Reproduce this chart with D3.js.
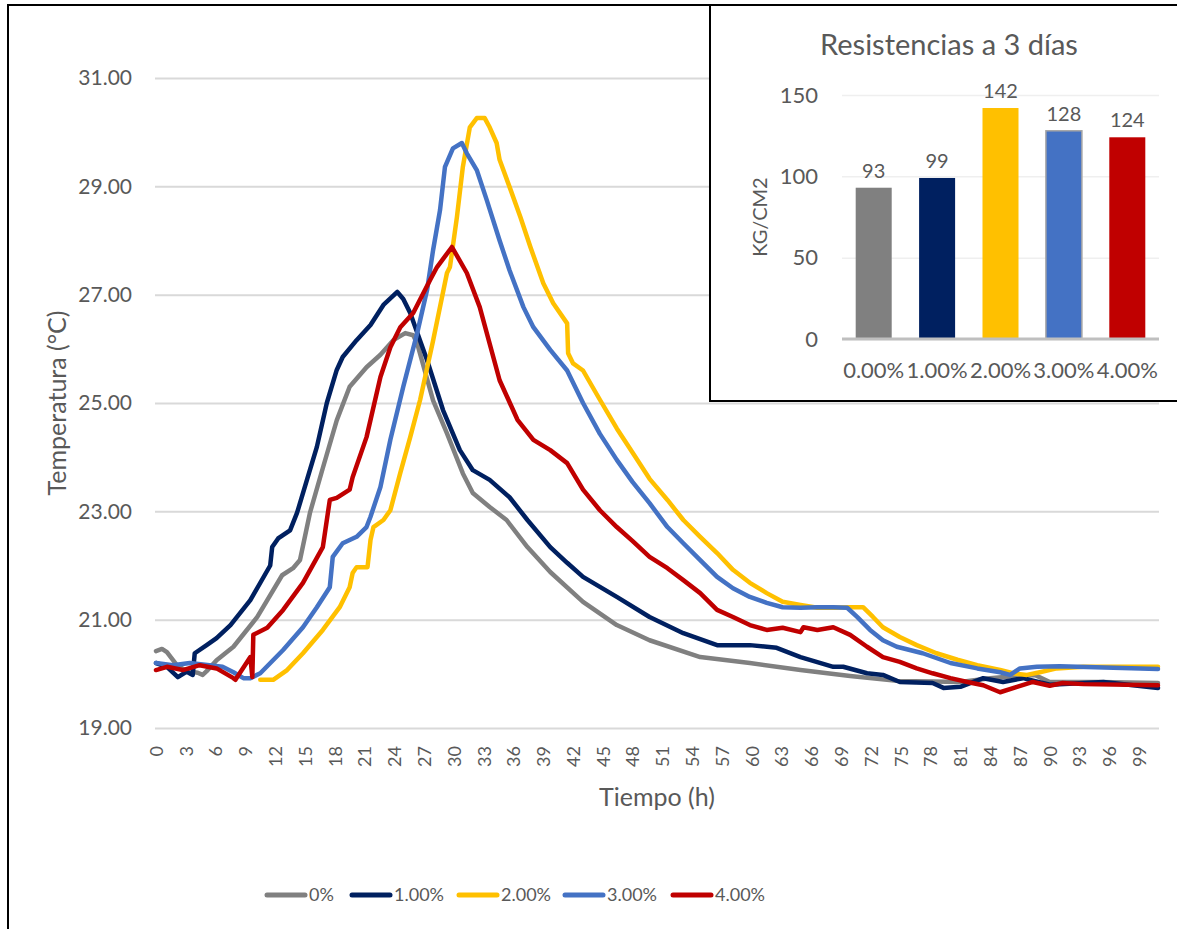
<!DOCTYPE html>
<html>
<head>
<meta charset="utf-8">
<script src="https://cdn.jsdelivr.net/npm/d3@7"></script>
<style>
  body { margin: 0; background: #fff; }
  text { font-family: Lato, "Open Sans", sans-serif; fill: #595959; }
</style>
</head>
<body>
<div id="chart"></div>
<script>
// Data
const seriesNames = ['0%', '1.00%', '2.00%', '3.00%', '4.00%']
const seriesColors = ['#808080', '#002060', '#FFC000', '#4472C4', '#C00000']

// [hora, temperatura °C]
const serie0 = [[0,20.42],[0.6,20.46],[1.1,20.4],[2.1,20.16],[3.1,20.05],[4.2,20.02],[4.7,19.98],[5.1,20.05],[6.1,20.25],[7.8,20.5],[10.2,21.05],[12.7,21.82],[13.8,21.95],[14.5,22.1],[15.5,22.97],[16.8,23.8],[18.2,24.68],[19.5,25.3],[21.2,25.66],[22.6,25.89],[23.9,26.16],[25.1,26.29],[25.9,26.25],[26.3,26.1],[27.9,25.05],[29.3,24.44],[30.9,23.7],[31.9,23.34],[33.6,23.08],[35.3,22.84],[37.4,22.34],[39.7,21.88],[43.0,21.33],[46.4,20.9],[49.7,20.62],[54.8,20.31],[59.8,20.2],[64.9,20.07],[69.9,19.96],[74.6,19.87],[78.2,19.86],[81.0,19.85],[84.0,19.92],[87.0,19.97],[88.5,19.98],[90.0,19.85],[95.0,19.85],[100.9,19.83]]
const serie1 = [[0,20.2],[1.1,20.13],[2.2,19.94],[3.1,20.04],[3.7,19.98],[3.9,20.38],[5.1,20.53],[6.1,20.66],[7.5,20.9],[9.5,21.36],[11.5,22.0],[11.7,22.34],[12.3,22.5],[13.5,22.65],[14.2,22.97],[15.2,23.58],[16.2,24.19],[17.2,25.0],[18.2,25.61],[18.8,25.85],[20.2,26.16],[21.6,26.44],[22.9,26.81],[24.3,27.05],[24.9,26.92],[25.6,26.66],[26.3,26.3],[27.3,25.79],[28.9,24.87],[30.6,24.13],[31.9,23.76],[33.6,23.58],[35.6,23.26],[37.4,22.84],[39.7,22.34],[41.4,22.05],[43.0,21.79],[46.4,21.42],[49.7,21.05],[53.1,20.75],[56.5,20.53],[59.8,20.53],[62.5,20.48],[64.9,20.31],[68.2,20.13],[69.2,20.13],[71.6,20.01],[73.2,19.98],[74.9,19.85],[78.2,19.83],[79.3,19.74],[81.0,19.76],[83.3,19.92],[85.3,19.85],[87.3,19.92],[90.0,19.8],[95.4,19.85],[100.9,19.74]]
const serie2 = [[10.5,19.89],[11.8,19.89],[13.2,20.07],[14.8,20.38],[16.8,20.81],[18.5,21.23],[19.5,21.6],[19.8,21.86],[20.2,21.97],[21.3,21.97],[21.6,22.47],[21.9,22.71],[22.9,22.84],[23.6,23.02],[24.6,23.71],[25.6,24.37],[26.6,25.06],[27.9,26.15],[29.3,27.4],[29.6,27.51],[30.3,28.43],[30.9,29.36],[31.6,30.09],[32.3,30.26],[33.1,30.26],[33.6,30.09],[34.3,29.8],[34.6,29.49],[35.6,28.99],[36.7,28.43],[37.7,27.88],[39.0,27.21],[40.0,26.84],[41.4,26.47],[41.5,25.92],[42.0,25.73],[43.0,25.6],[44.7,25.06],[46.4,24.53],[48.0,24.08],[49.7,23.6],[51.5,23.21],[53.1,22.84],[54.8,22.53],[56.5,22.23],[58.1,21.92],[59.8,21.68],[61.5,21.49],[63.1,21.33],[64.9,21.27],[66.6,21.22],[68.2,21.22],[69.9,21.23],[71.2,21.23],[72.2,21.05],[73.2,20.86],[74.9,20.68],[76.6,20.53],[78.6,20.38],[80.7,20.26],[82.7,20.16],[85.0,20.07],[86.3,20.01],[87.7,19.98],[89.0,20.03],[90.7,20.1],[93.4,20.13],[100.9,20.13]]
const serie3 = [[0,20.2],[1.7,20.16],[3.4,20.2],[6.7,20.13],[7.8,20.03],[8.8,19.92],[9.5,19.92],[10.5,20.01],[12.8,20.44],[14.8,20.86],[16.2,21.23],[17.5,21.6],[17.8,22.16],[18.8,22.41],[20.2,22.53],[21.2,22.71],[21.6,22.9],[22.6,23.45],[23.6,24.32],[24.9,25.3],[26.3,26.29],[27.3,27.09],[27.9,27.82],[28.6,28.56],[29.1,29.36],[29.9,29.7],[30.8,29.8],[31.3,29.61],[32.3,29.3],[33.3,28.75],[34.6,28.0],[35.6,27.45],[37.0,26.77],[38.0,26.4],[39.7,25.98],[41.4,25.6],[43.0,25.0],[44.7,24.43],[46.4,23.95],[48.0,23.54],[49.7,23.15],[51.5,22.71],[53.1,22.41],[54.8,22.1],[56.5,21.79],[58.1,21.58],[59.8,21.42],[61.5,21.31],[63.1,21.23],[64.9,21.22],[66.6,21.23],[68.2,21.23],[69.6,21.22],[70.6,21.05],[71.9,20.81],[73.2,20.62],[74.6,20.5],[77.2,20.38],[80.0,20.2],[82.7,20.1],[85.0,20.03],[86.0,19.98],[87.0,20.1],[88.7,20.13],[91.0,20.14],[100.9,20.09]]
const serie4 = [[0,20.07],[1.1,20.13],[2.7,20.07],[4.4,20.16],[6.1,20.1],[7.8,19.92],[8.0,19.89],[9.5,20.31],[9.7,19.94],[9.8,20.72],[11.2,20.85],[12.8,21.18],[14.8,21.68],[16.8,22.34],[17.5,23.21],[18.2,23.25],[19.5,23.4],[19.8,23.63],[21.2,24.37],[22.6,25.48],[23.6,26.03],[24.6,26.4],[25.9,26.66],[27.6,27.27],[28.3,27.51],[29.8,27.88],[31.3,27.4],[32.6,26.77],[34.6,25.42],[36.4,24.69],[38.0,24.32],[39.7,24.13],[41.4,23.89],[43.0,23.4],[44.7,23.02],[46.4,22.71],[48.0,22.45],[49.7,22.16],[51.5,21.95],[53.1,21.73],[54.8,21.49],[56.5,21.18],[58.1,21.05],[59.8,20.9],[61.5,20.81],[63.1,20.85],[64.9,20.77],[65.2,20.86],[66.6,20.81],[68.2,20.86],[69.9,20.72],[71.6,20.5],[73.2,20.31],[74.9,20.22],[76.6,20.1],[78.2,20.01],[80.0,19.92],[81.7,19.85],[83.3,19.79],[85.0,19.66],[86.7,19.76],[88.3,19.85],[90.0,19.78],[91.3,19.83],[93.4,19.81],[100.9,19.79]]
const allSeries = [serie0, serie1, serie2, serie3, serie4]

const xTicks = [0,3,6,9,12,15,18,21,24,27,30,33,36,39,42,45,48,51,54,57,60,63,66,69,72,75,78,81,84,87,90,93,96,99]
const yTicks = [19,21,23,25,27,29,31]

// Resistencias (inset)
const barCategories = ['0.00%', '1.00%', '2.00%', '3.00%', '4.00%']
const barValues = [93, 99, 142, 128, 124]
const barTicks = [0, 50, 100, 150]

// Dimensions
const width = 1177
const height = 929

const svg = d3.select('#chart')
  .append('svg')
  .attr('width', width)
  .attr('height', height)

// outer border
svg.append('rect')
  .attr('x', 8).attr('y', 5)
  .attr('width', 1200).attr('height', 1000)
  .attr('fill', '#fff')
  .attr('stroke', '#000')
  .attr('stroke-width', 2)

// Scales
const xScale = d3.scaleLinear().domain([0, 101]).range([156, 1159])
const yScale = d3.scaleLinear().domain([19, 31]).range([728, 78])

// gridlines
const grid = svg.append('g')
  .attr('transform', 'translate(155,0)')
  .call(d3.axisLeft(yScale).tickValues(yTicks).tickSize(-(1159 - 155)).tickFormat(''))
grid.select('.domain').remove()
grid.selectAll('line').attr('stroke', '#d9d9d9').attr('stroke-width', 2)

// y axis
const yAxisGroup = svg.append('g')
  .attr('transform', 'translate(156,0)')
  .call(d3.axisLeft(yScale).tickValues(yTicks).tickSize(0).tickPadding(24).tickFormat(d3.format('.2f')))
yAxisGroup.select('.domain').remove()
yAxisGroup.selectAll('text').style('font-size', '21px').attr('fill', '#595959')

// x axis
const xAxisGroup = svg.append('g')
  .attr('transform', 'translate(0,728)')
  .call(d3.axisBottom(xScale).tickValues(xTicks).tickSize(0))
xAxisGroup.select('.domain').remove()
xAxisGroup.selectAll('text')
  .style('font-size', '18px')
  .attr('fill', '#595959')
  .attr('text-anchor', 'end')
  .attr('transform', 'translate(0,18) rotate(-90)')
  .attr('x', 0).attr('y', 0).attr('dy', '0.35em')

// axis titles
svg.append('text')
  .attr('transform', 'translate(57,403) rotate(-90)')
  .attr('text-anchor', 'middle')
  .attr('dy', '0.35em')
  .style('font-size', '25px')
  .text('Temperatura (°C)')
svg.append('text')
  .attr('x', 657).attr('y', 806)
  .attr('text-anchor', 'middle')
  .style('font-size', '25px')
  .text('Tiempo (h)')

// lines
const line = d3.line()
  .x(d => xScale(d[0]))
  .y(d => yScale(d[1]))

svg.append('g')
  .selectAll('path')
  .data(allSeries)
  .join('path')
  .attr('d', line)
  .attr('fill', 'none')
  .attr('stroke', (d, i) => seriesColors[i])
  .attr('stroke-width', 4.5)
  .attr('stroke-linejoin', 'round')
  .attr('stroke-linecap', 'round')

// legend
const legendX = [265, 350, 457, 563, 671]
const legend = svg.append('g')
  .selectAll('g')
  .data(seriesNames)
  .join('g')
  .attr('transform', (d, i) => `translate(${legendX[i]},895)`)
legend.append('line')
  .attr('x1', 2).attr('x2', 40)
  .attr('stroke', (d, i) => seriesColors[i])
  .attr('stroke-width', 5)
  .attr('stroke-linecap', 'round')
legend.append('text')
  .attr('x', 44).attr('dy', '0.35em')
  .style('font-size', '18px')
  .text(d => d)

// Inset chart
svg.append('rect')
  .attr('x', 710).attr('y', 5)
  .attr('width', 500).attr('height', 396)
  .attr('fill', '#fff')
  .attr('stroke', '#000')
  .attr('stroke-width', 2)

const bx = d3.scaleBand()
  .domain(barCategories)
  .range([842, 1159])
  .paddingInner(0.432)
  .paddingOuter(0.216)
const by = d3.scaleLinear().domain([0, 150]).range([339, 95])

const bGrid = svg.append('g')
  .attr('transform', 'translate(842,0)')
  .call(d3.axisLeft(by).tickValues(barTicks).tickSize(-(1159 - 842)).tickFormat(''))
bGrid.select('.domain').remove()
bGrid.selectAll('line').attr('stroke', '#efefef').attr('stroke-width', 1.5)

const bAxis = svg.append('g')
  .attr('transform', 'translate(842,0)')
  .call(d3.axisLeft(by).tickValues(barTicks).tickSize(0).tickPadding(24))
bAxis.select('.domain').remove()
bAxis.selectAll('text').style('font-size', '22px').attr('fill', '#595959')

svg.append('g')
  .selectAll('rect')
  .data(barValues)
  .join('rect')
  .attr('x', (d, i) => bx(barCategories[i]))
  .attr('width', bx.bandwidth())
  .attr('y', d => by(d))
  .attr('height', d => by(0) - by(d))
  .attr('fill', (d, i) => seriesColors[i])
  .attr('stroke', (d, i) => i === 3 ? '#a6a6a6' : 'none')
  .attr('stroke-width', 1.5)

// baseline
svg.append('line')
  .attr('x1', 842).attr('x2', 1159)
  .attr('y1', by(0)).attr('y2', by(0))
  .attr('stroke', '#bfbfbf').attr('stroke-width', 3)

// value labels
svg.append('g')
  .selectAll('text')
  .data(barValues)
  .join('text')
  .attr('x', (d, i) => bx(barCategories[i]) + bx.bandwidth() / 2)
  .attr('y', d => by(d) - 10)
  .attr('text-anchor', 'middle')
  .style('font-size', '20px')
  .attr('fill', '#404040')
  .text(d => d)

// category labels
svg.append('g')
  .selectAll('text')
  .data(barCategories)
  .join('text')
  .attr('x', d => bx(d) + bx.bandwidth() / 2)
  .attr('y', 378)
  .attr('text-anchor', 'middle')
  .style('font-size', '22px')
  .text(d => d)

svg.append('text')
  .attr('transform', 'translate(760,217) rotate(-90)')
  .attr('text-anchor', 'middle')
  .attr('dy', '0.35em')
  .style('font-size', '20px')
  .text('KG/CM2')

svg.append('text')
  .attr('x', 949).attr('y', 55)
  .attr('text-anchor', 'middle')
  .style('font-size', '29px')
  .text('Resistencias a 3 días')
</script>
</body>
</html>
